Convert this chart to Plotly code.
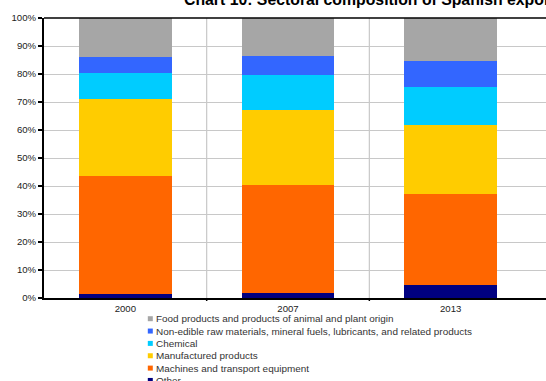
import plotly.graph_objects as go

years = ["2000", "2007", "2013"]
series_names = [
    "Other",
    "Machines and transport equipment",
    "Manufactured products",
    "Chemical",
    "Non-edible raw materials, mineral fuels, lubricants, and related products",
    "Food products and products of animal and plant origin",
]
other = [1.4, 1.9, 4.8]
machines = [42.2, 38.5, 32.3]
manufactured = [27.3, 26.7, 24.7]
chemical = [9.4, 12.4, 13.4]
non_edible = [5.7, 6.9, 9.4]
food = [14.0, 13.6, 15.4]
values = [other, machines, manufactured, chemical, non_edible, food]
colors = ["#000080", "#ff6600", "#ffcc00", "#00ccff", "#3366ff", "#a6a6a6"]
ytick_vals = [0, 10, 20, 30, 40, 50, 60, 70, 80, 90, 100]
ytick_text = [f"{v}%" for v in ytick_vals]
title_text = "Chart 10: Sectoral composition of Spanish exports"

W, H = 546, 381
L, T, B = 44, 18, 298
R = W
pw, ph = R - L, B - T

def px_x(X):
    return (X - L) / pw

def px_y(Y):
    return (B - Y) / ph

FONT = "Liberation Sans, Arial, sans-serif"

fig = go.Figure()
for name, vals, col in zip(series_names, values, colors):
    fig.add_trace(go.Bar(
        x=years, y=vals, name=name, marker=dict(color=col, line=dict(width=0)),
        width=0.57, showlegend=False,
    ))

shapes = []
annotations = []
# vertical grid lines at category boundaries
for b in [0.5, 1.5]:
    shapes.append(dict(type="line", xref="x", yref="paper", x0=b, x1=b, y0=0, y1=1,
                       line=dict(color="#c8c8c8", width=1.2), layer="below"))
    shapes.append(dict(type="line", xref="x", yref="paper", x0=b, x1=b, y0=0, y1=-3 / ph,
                       line=dict(color="#000000", width=1.5)))
# top border line
shapes.append(dict(type="line", xref="paper", yref="paper", x0=0, x1=1, y0=1, y1=1,
                   line=dict(color="#000000", width=1.5)))

# manual legend (reverse order)
row0 = 318.7
step = 12.35
for i, (name, col) in enumerate(reversed(list(zip(series_names, colors)))):
    yc = row0 + i * step
    shapes.append(dict(type="rect", xref="paper", yref="paper",
                       x0=px_x(147.8), x1=px_x(152.8), y0=px_y(yc - 2.5), y1=px_y(yc + 2.5),
                       fillcolor=col, line=dict(width=0)))
    annotations.append(dict(text=name, xref="paper", yref="paper", x=px_x(154.2), y=px_y(yc),
                            xanchor="left", yanchor="middle", showarrow=False,
                            font=dict(family=FONT, size=9.95, color="#333333")))

annotations.append(dict(text=f"<b>{title_text}</b>", xref="paper", yref="paper",
                        x=px_x(182), y=px_y(-0.3), xanchor="left", yanchor="middle",
                        showarrow=False, font=dict(family=FONT, size=15.8, color="#000000")))

fig.update_layout(
    width=W, height=H,
    margin=dict(l=L, r=W - R, t=T, b=H - B, pad=0),
    barmode="stack",
    plot_bgcolor="white", paper_bgcolor="white",
    shapes=shapes, annotations=annotations,
    showlegend=False,
    bargap=0.43,
    xaxis=dict(
        type="category", range=[-0.5, 2.586], showgrid=False,
        showline=True, linecolor="#000000", linewidth=2,
        ticks="", tickfont=dict(family=FONT, size=9.6, color="#222222"),
        zeroline=False, fixedrange=True,
    ),
    yaxis=dict(
        range=[0, 100], tickvals=ytick_vals, ticktext=ytick_text,
        showgrid=True, gridcolor="#c8c8c8", gridwidth=1.2,
        showline=True, linecolor="#000000", linewidth=2,
        ticks="outside", ticklen=4, tickcolor="#000000", tickwidth=1.5,
        tickfont=dict(family=FONT, size=9.6, color="#222222"),
        zeroline=False, fixedrange=True,
    ),
)

fig.write_html("out.html", config={"displayModeBar": False})
